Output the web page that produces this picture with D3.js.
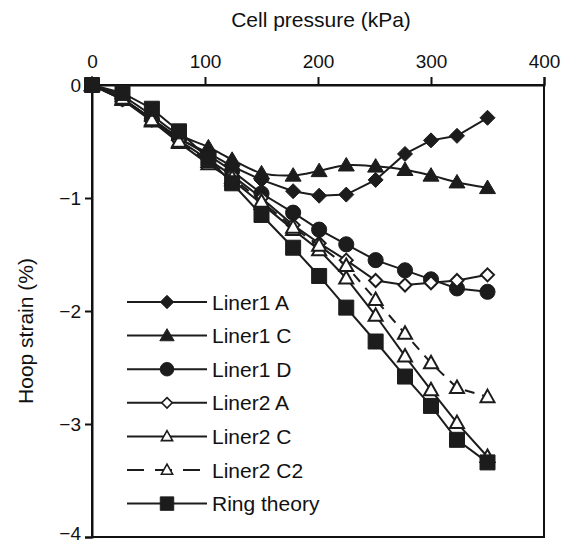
<!DOCTYPE html>
<html>
  <head>
    <meta charset="UTF-8" />
    <style>
      body {
        margin: 0;
        background: #fff;
      }
      text {
        font-family: "Liberation Sans", Arial, sans-serif;
        fill: #111;
      }
    </style>
  </head>
  <body>
    <svg></svg>
    <script src="https://d3js.org/d3.v7.min.js"></script>
    <script>
      // Cell pressure steps (kPa)
      const pressure = [0, 27, 53, 77, 103, 124, 150, 178, 201, 225, 251, 277, 300, 323, 350];

      // Hoop strain (%) per series
      const liner1A = [0, -0.12, -0.3, -0.48, -0.6, -0.72, -0.84, -0.94, -0.98, -0.97, -0.84, -0.61, -0.49, -0.45, -0.29];
      const liner1C = [0, -0.1, -0.27, -0.44, -0.55, -0.66, -0.78, -0.8, -0.76, -0.71, -0.72, -0.75, -0.8, -0.86, -0.91];
      const liner1D = [0, -0.12, -0.3, -0.47, -0.62, -0.76, -0.96, -1.13, -1.28, -1.41, -1.55, -1.64, -1.72, -1.8, -1.83];
      const liner2A = [0, -0.13, -0.31, -0.49, -0.66, -0.8, -1.0, -1.24, -1.4, -1.55, -1.73, -1.77, -1.75, -1.73, -1.68];
      const liner2C = [0, -0.13, -0.32, -0.51, -0.7, -0.84, -1.05, -1.28, -1.46, -1.71, -2.04, -2.4, -2.7, -2.99, -3.29];
      const liner2C2 = [0, -0.12, -0.31, -0.5, -0.68, -0.82, -1.03, -1.26, -1.42, -1.6, -1.9, -2.2, -2.46, -2.68, -2.76];
      const ringTheory = [0, -0.07, -0.21, -0.41, -0.65, -0.87, -1.15, -1.44, -1.69, -1.97, -2.27, -2.58, -2.84, -3.14, -3.34];

      const xTicks = [0, 100, 200, 300, 400];
      const yTicks = [0, -1, -2, -3, -4];

      const series = [
        { name: "Liner1 A", values: liner1A, marker: "diamond", open: false, dashed: false, smooth: false },
        { name: "Liner1 C", values: liner1C, marker: "triangle", open: false, dashed: false, smooth: true },
        { name: "Liner1 D", values: liner1D, marker: "circle", open: false, dashed: false, smooth: false },
        { name: "Liner2 A", values: liner2A, marker: "diamond", open: true, dashed: false, smooth: false },
        { name: "Liner2 C", values: liner2C, marker: "triangle", open: true, dashed: false, smooth: false },
        { name: "Liner2 C2", values: liner2C2, marker: "triangle", open: true, dashed: true, smooth: false },
        { name: "Ring theory", values: ringTheory, marker: "square", open: false, dashed: false, smooth: false },
      ];

      let width = 562,
        height = 544;
      const margin = { top: 85, right: 18, bottom: 7, left: 92 };

      let svg = d3
        .select("svg")
        .attr("width", width)
        .attr("height", height);

      let x = d3
        .scaleLinear()
        .domain([0, 400])
        .range([margin.left, width - margin.right]);
      let y = d3
        .scaleLinear()
        .domain([0, -4])
        .range([margin.top, height - margin.bottom]);

      const ink = "#1c1c1c";

      // marker shapes, centred on 0,0
      function markerPath(type, open) {
        if (type == "diamond") {
          const r = open ? 6.5 : 7.5;
          return `M0,${-r}L${r},0L0,${r}L${-r},0Z`;
        }
        if (type == "triangle") {
          const h = open ? 12.5 : 13.5,
            w = open ? 14 : 16;
          return `M0,${-h / 2 - 1}L${w / 2},${h / 2 - 1}L${-w / 2},${h / 2 - 1}Z`;
        }
        if (type == "square") {
          return "M-7.5,-7.5H7.5V7.5H-7.5Z";
        }
        return d3.symbol().type(d3.symbolCircle).size(180)();
      }

      // frame
      svg
        .append("rect")
        .attr("x", x(0))
        .attr("y", y(0))
        .attr("width", x(400) - x(0))
        .attr("height", y(-4) - y(0))
        .attr("fill", "none")
        .attr("stroke", "#111")
        .attr("stroke-width", 2);

      // x axis on top
      let xAxis = svg
        .append("g")
        .attr("transform", `translate(0,${y(0)})`)
        .call(d3.axisTop(x).tickValues(xTicks).tickSize(8).tickPadding(9));
      xAxis.select(".domain").attr("stroke", "#111").attr("stroke-width", 2);
      xAxis.selectAll(".tick line").attr("stroke", "#111").attr("stroke-width", 2);
      xAxis
        .selectAll(".tick text")
        .attr("font-size", 19)
        .attr("fill", "#111")
        .style("font-family", "Liberation Sans, Arial, sans-serif");

      // y axis on left
      let yAxis = svg
        .append("g")
        .attr("transform", `translate(${x(0)},0)`)
        .call(
          d3
            .axisLeft(y)
            .tickValues(yTicks)
            .tickSize(7)
            .tickPadding(4)
            .tickFormat((d) => (d < 0 ? "\u2212" + Math.abs(d) : d))
        );
      yAxis.select(".domain").attr("stroke", "#111").attr("stroke-width", 2);
      yAxis.selectAll(".tick line").attr("stroke", "#111").attr("stroke-width", 2);
      yAxis
        .selectAll(".tick text")
        .attr("font-size", 19)
        .attr("fill", "#111")
        .attr("dy", (d) => (d == -4 ? "0.15em" : "0.32em"))
        .style("font-family", "Liberation Sans, Arial, sans-serif");

      // axis titles
      svg
        .append("text")
        .attr("x", (x(0) + x(400)) / 2 + 3)
        .attr("y", 27)
        .attr("text-anchor", "middle")
        .attr("font-size", 21)
        .text("Cell pressure (kPa)");

      svg
        .append("text")
        .attr("transform", "translate(33,331) rotate(-90)")
        .attr("text-anchor", "middle")
        .attr("font-size", 21)
        .text("Hoop strain (%)");

      // series lines and markers
      let plot = svg.append("g");
      series.forEach((s) => {
        const pts = pressure.map((p, i) => [p, s.values[i]]);
        const line = d3
          .line()
          .x((d) => x(d[0]))
          .y((d) => y(d[1]))
          .curve(s.smooth ? d3.curveCatmullRom.alpha(0.5) : d3.curveLinear);

        plot
          .append("path")
          .datum(pts)
          .attr("d", line)
          .attr("fill", "none")
          .attr("stroke", ink)
          .attr("stroke-width", 2)
          .attr("stroke-dasharray", s.dashed ? "10,8" : null);

        plot
          .append("g")
          .selectAll("path")
          .data(pts)
          .enter()
          .append("path")
          .attr("transform", (d) => `translate(${x(d[0])},${y(d[1])})`)
          .attr("d", markerPath(s.marker, s.open))
          .attr("fill", s.open ? "#fff" : ink)
          .attr("stroke", ink)
          .attr("stroke-width", s.open ? 2 : 1);
      });

      // legend
      let legend = svg.append("g").attr("transform", "translate(127,302)");
      let row = legend
        .selectAll("g")
        .data(series)
        .enter()
        .append("g")
        .attr("transform", (d, i) => `translate(0,${i * 33.6})`);

      row
        .append("line")
        .attr("x1", 0)
        .attr("x2", 80)
        .attr("stroke", ink)
        .attr("stroke-width", 2)
        .attr("stroke-dasharray", (d) => (d.dashed ? "17,11" : null));

      row
        .append("path")
        .attr("transform", (d) => `translate(40,0) scale(${d.open ? 0.8 : 0.9})`)
        .attr("d", (d) => markerPath(d.marker, d.open))
        .attr("fill", (d) => (d.open ? "#fff" : ink))
        .attr("stroke", ink)
        .attr("stroke-width", (d) => (d.open ? 2 : 1));

      row
        .append("text")
        .attr("x", 85)
        .attr("dy", "0.36em")
        .attr("font-size", 21)
        .text((d) => d.name);
    </script>
  </body>
</html>
